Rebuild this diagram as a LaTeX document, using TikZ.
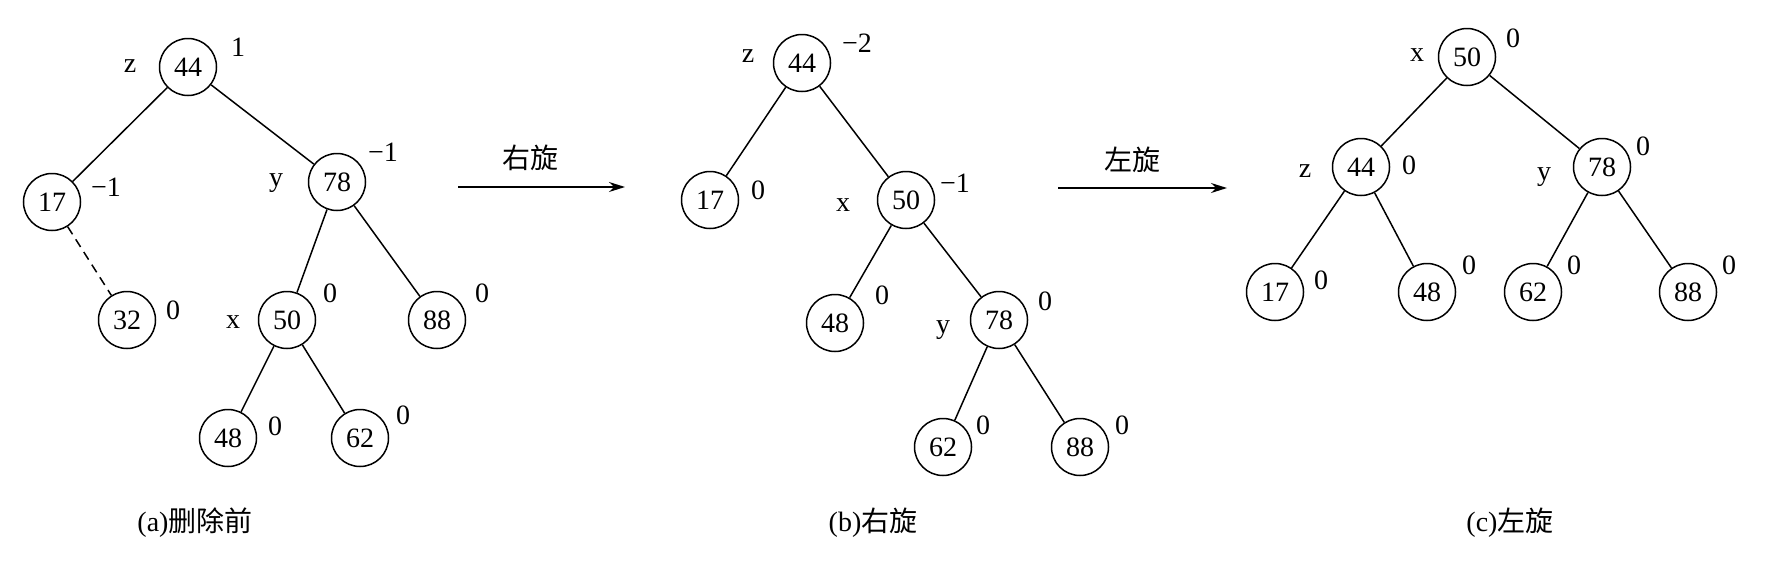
\documentclass[tikz,border=0pt]{standalone}
\usepackage{fontspec}
\setmainfont{Liberation Serif}
\newfontfamily\cjk{Noto Sans CJK SC}
\usetikzlibrary{arrows.meta}
\tikzset{
  every node/.style={font=\fontsize{28pt}{32pt}\selectfont, inner sep=0pt},
  tn/.style={circle, draw, line width=1.5pt, minimum size=57pt},
  lbl/.style={anchor=center},
  treeedge/.style={line width=1.5pt},
  dashedge/.style={line width=1.5pt, dash pattern=on 9pt off 6pt},
  rotarrow/.style={line width=1.5pt, -{Stealth[length=16pt,width=10pt]}},
  captext/.style={anchor=center}
}
\begin{document}
\begin{tikzpicture}[x=1pt,y=-1pt]
\useasboundingbox (0,0) rectangle (1782,560);
% ---------- tree (a)
\node[tn] (a44) at (188,67) {44};
\node[tn] (a17) at (52,202) {17};
\node[tn] (a78) at (337,182) {78};
\node[tn] (a32) at (127,320) {32};
\node[tn] (a50) at (287,320) {50};
\node[tn] (a88) at (437,320) {88};
\node[tn] (a48) at (228,438) {48};
\node[tn] (a62) at (360,438) {62};
\node[lbl] (az) at (130,66) {z};
\node[lbl] (ab44) at (238,47) {1};
\node[lbl] (ab17) at (106,187) {−1};
\node[lbl] (ay) at (276,183) {y};
\node[lbl] (ab78) at (383,152) {−1};
\node[lbl] (ab32) at (173,310) {0};
\node[lbl] (ax) at (233,322) {x};
\node[lbl] (ab50) at (330,293) {0};
\node[lbl] (ab88) at (482,293) {0};
\node[lbl] (ab48) at (275,426) {0};
\node[lbl] (ab62) at (403,415) {0};
\draw[treeedge] (a44) -- (a17);
\draw[treeedge] (a44) -- (a78);
\draw[dashedge] (a17) -- (a32);
\draw[treeedge] (a78) -- (a50);
\draw[treeedge] (a78) -- (a88);
\draw[treeedge] (a50) -- (a48);
\draw[treeedge] (a50) -- (a62);
\node[captext] (capa) at (195,523) {(a){\cjk 删除前}};
% ---------- arrow 1
\coordinate (r1s) at (458,187);
\coordinate (r1e) at (625,187);
\draw[rotarrow] (r1s) -- (r1e);
\node[lbl] (r1l) at (530,158) {\cjk 右旋};
% ---------- tree (b)
\node[tn] (b44) at (802,63) {44};
\node[tn] (b17) at (710,200) {17};
\node[tn] (b50) at (906,200) {50};
\node[tn] (b48) at (835,323) {48};
\node[tn] (b78) at (999,320) {78};
\node[tn] (b62) at (943,447) {62};
\node[tn] (b88) at (1080,447) {88};
\node[lbl] (bz) at (748,56) {z};
\node[lbl] (bb44) at (857,43) {−2};
\node[lbl] (bb17) at (758,190) {0};
\node[lbl] (bx) at (843,205) {x};
\node[lbl] (bb50) at (955,183) {−1};
\node[lbl] (bb48) at (882,295) {0};
\node[lbl] (by) at (943,330) {y};
\node[lbl] (bb78) at (1045,301) {0};
\node[lbl] (bb62) at (983,425) {0};
\node[lbl] (bb88) at (1122,425) {0};
\draw[treeedge] (b44) -- (b17);
\draw[treeedge] (b44) -- (b50);
\draw[treeedge] (b50) -- (b48);
\draw[treeedge] (b50) -- (b78);
\draw[treeedge] (b78) -- (b62);
\draw[treeedge] (b78) -- (b88);
\node[captext] (capb) at (873,523) {(b){\cjk 右旋}};
% ---------- arrow 2
\coordinate (r2s) at (1058,188);
\coordinate (r2e) at (1227,188);
\draw[rotarrow] (r2s) -- (r2e);
\node[lbl] (r2l) at (1132,160) {\cjk 左旋};
% ---------- tree (c)
\node[tn] (c50) at (1467,57) {50};
\node[tn] (c44) at (1361,167) {44};
\node[tn] (c78) at (1602,167) {78};
\node[tn] (c17) at (1275,292) {17};
\node[tn] (c48) at (1427,292) {48};
\node[tn] (c62) at (1533,292) {62};
\node[tn] (c88) at (1688,292) {88};
\node[lbl] (cx) at (1417,55) {x};
\node[lbl] (cb50) at (1513,38) {0};
\node[lbl] (cz) at (1305,171) {z};
\node[lbl] (cb44) at (1409,165) {0};
\node[lbl] (cy) at (1544,177) {y};
\node[lbl] (cb78) at (1643,146) {0};
\node[lbl] (cb17) at (1321,280) {0};
\node[lbl] (cb48) at (1469,265) {0};
\node[lbl] (cb62) at (1574,265) {0};
\node[lbl] (cb88) at (1729,265) {0};
\draw[treeedge] (c50) -- (c44);
\draw[treeedge] (c50) -- (c78);
\draw[treeedge] (c44) -- (c17);
\draw[treeedge] (c44) -- (c48);
\draw[treeedge] (c78) -- (c62);
\draw[treeedge] (c78) -- (c88);
\node[captext] (capc) at (1510,523) {(c){\cjk 左旋}};
\end{tikzpicture}
\end{document}
